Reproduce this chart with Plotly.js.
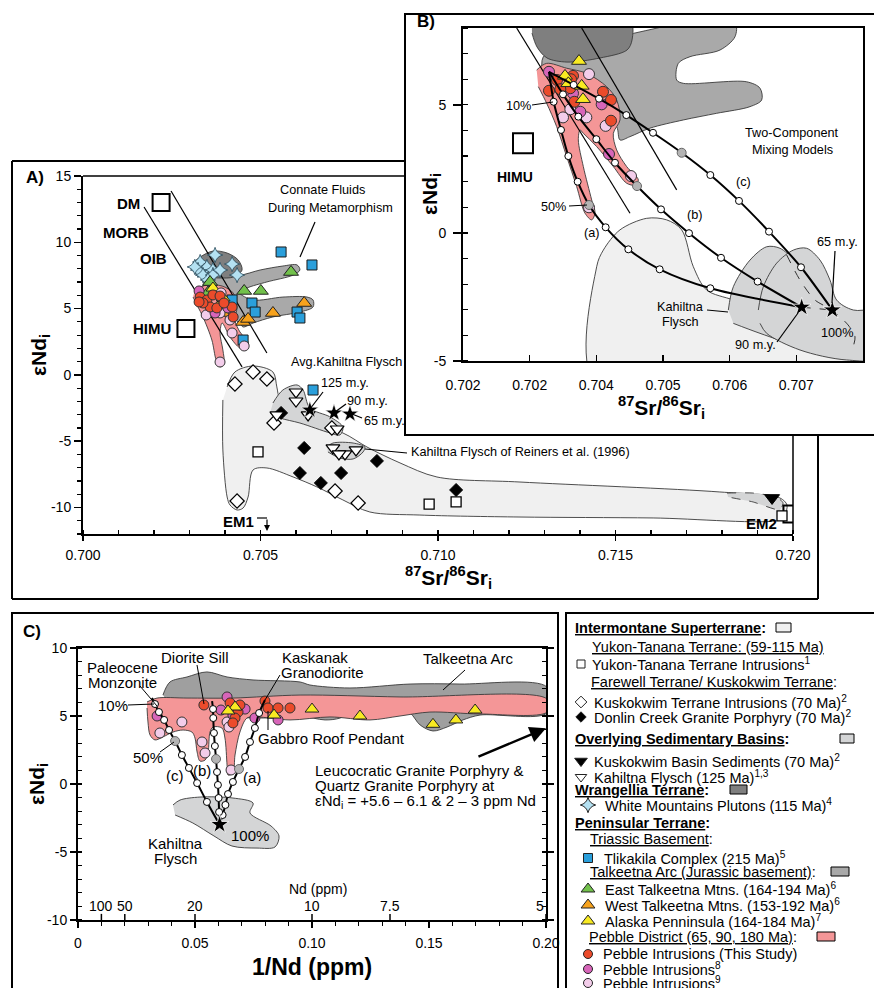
<!DOCTYPE html>
<html><head><meta charset="utf-8">
<script src="https://cdn.plot.ly/plotly-3.0.1.min.js"></script>
<style>html,body{margin:0;padding:0;background:#fff}</style>
</head><body><div id="chart" style="width:874px;height:988px"></div>
<script>
// ================= DATA =================
// ---- Panel A (87Sr/86Sr vs eNd) ----
const aIntermontaneX = [0.70406,0.70428,0.70479,0.70535,0.70546,0.70555,0.70611,0.70732,0.70800,0.70893,0.70997,0.71231,0.71794,0.71963,0.71983,0.71977,0.71963,0.71606,0.71231,0.70949,0.70808,0.70732,0.70659,0.70592,0.70518,0.70479,0.70465,0.70451,0.70434,0.70414,0.70406,0.70394,0.70394];
const aIntermontaneY = [-0.91,0.22,0.67,0.22,-0.91,-1.89,-3.40,-4.38,-5.44,-6.64,-7.70,-8.08,-8.83,-9.28,-9.81,-10.57,-10.94,-10.79,-10.72,-10.57,-10.34,-9.43,-8.45,-7.70,-7.02,-7.17,-9.21,-10.04,-10.19,-9.81,-9.21,-5.66,-1.89];
const aTalkeetnaX = [0.70338,0.70406,0.70442,0.70499,0.70563,0.70603,0.70611,0.70592,0.70518,0.70462,0.70442,0.70479,0.70563,0.70631,0.70648,0.70648,0.70611,0.70535,0.70479,0.70451,0.70442,0.70414,0.70377,0.70349,0.70330];
const aTalkeetnaY = [6.93,7.68,7.53,7.91,8.21,8.29,7.91,7.53,7.01,6.55,6.18,5.65,5.87,5.87,5.65,5.12,4.74,4.37,3.91,3.61,3.91,4.37,5.12,5.87,6.40];
const aWrangelliaX = [0.70310,0.70330,0.70366,0.70406,0.70437,0.70448,0.70423,0.70386,0.70349,0.70315];
const aWrangelliaY = [8.44,8.89,9.34,9.19,8.67,7.91,7.38,7.31,7.38,7.68];
const aPebbleX = [0.70315,0.70349,0.70392,0.70423,0.70434,0.70428,0.70442,0.70465,0.70462,0.70442,0.70414,0.70392,0.70386,0.70394,0.70397,0.70386,0.70375,0.70363,0.70338,0.70324,0.70310];
const aPebbleY = [6.40,6.78,6.70,6.18,5.12,4.14,3.24,2.48,1.95,2.03,2.86,3.91,3.16,1.88,0.90,0.60,1.12,2.63,4.37,5.12,5.87];
const aKahiltnaX = [0.70535,0.70563,0.70603,0.70620,0.70639,0.70696,0.70732,0.70724,0.70696,0.70611,0.70555,0.70527];
const aKahiltnaY = [-2.12,-1.14,-0.76,-1.14,-2.50,-3.17,-3.93,-4.53,-4.38,-3.63,-3.25,-2.87];
const aReinersX = [0.70687,0.70704,0.70761,0.70794,0.70789,0.70761,0.70724,0.70690];
const aReinersY = [-5.44,-5.14,-5.14,-5.44,-5.81,-6.34,-6.27,-5.81];
const aKuskoBasinX = [0.71814,0.71887,0.71955,0.71972,0.71963,0.71887,0.71817];
const aKuskoBasinY = [-8.91,-8.91,-9.21,-9.66,-10.19,-9.58,-9.21];
const aLine1X = [0.70172,0.70448], aLine1Y = [12.66,0.60];
const aLine2X = [0.70248,0.70518], aLine2Y = [13.87,1.65];
const reservoirName = ['DM','HIMU','EM2'];
const reservoirSr = [0.7022,0.7029,0.71997];
const reservoirNd = [13.0,3.5,-10.49];
const aTlikakilaX = [0.70558,0.70645,0.70420,0.70476,0.70485,0.70603,0.70611,0.70451,0.70648];
const aTlikakilaY = [9.27,8.29,5.65,5.42,4.74,4.74,4.29,2.63,-1.14];
const aWhiteMtnX = [0.70372,0.70330,0.70349,0.70366,0.70324,0.70338,0.70366,0.70420,0.70434,0.70315,0.70352,0.70386];
const aWhiteMtnY = [9.04,8.51,8.14,7.91,7.91,7.53,7.53,8.36,7.53,8.14,7.16,7.91];
const aEastTalkX = [0.70586,0.70454,0.70501,0.70358,0.70352];
const aEastTalkY = [7.76,6.33,6.33,7.0,6.2];
const aWestTalkX = [0.70623,0.70535,0.70451,0.70465,0.70394];
const aWestTalkY = [5.42,4.67,3.99,4.22,4.67];
const aAKPenX = [0.70366,0.70380,0.70395];
const aAKPenY = [6.55,5.12,5.8];
const aRedX = [0.70330,0.70349,0.70366,0.70386,0.70358,0.70377,0.70420,0.70423,0.70338,0.70327,0.70397];
const aRedY = [5.87,5.65,6.03,5.95,5.12,5.05,5.12,4.37,5.42,5.50,5.42];
const aMagX = [0.70327,0.70372,0.70408];
const aMagY = [6.33,4.67,5.05];
const aLtPinkX = [0.70347,0.70389,0.70414,0.70420,0.70454,0.70386,0.70386];
const aLtPinkY = [4.52,6.18,4.14,3.16,2.18,0.97,4.67];
const aKuskoIntrX = [0.70428,0.70479,0.70518,0.70538,0.70701,0.70434,0.70710,0.70775];
const aKuskoIntrY = [-0.69,0.22,-0.31,-3.63,-4.0,-9.51,-8.76,-9.66];
const aDonlinX = [0.70558,0.70623,0.70611,0.70670,0.70727,0.70828,0.71051];
const aDonlinY = [-2.87,-5.51,-7.40,-8.15,-7.40,-6.49,-8.68];
const aYukonX = [0.70493,0.70975,0.71051,0.71969];
const aYukonY = [-5.81,-9.74,-9.58,-10.64];
const aKahFlyschX = [0.70600,0.70600,0.70634,0.70716,0.70546,0.70704,0.70738,0.70769,0.70721];
const aKahFlyschY = [-1.29,-1.97,-3.02,-4.08,-3.02,-5.51,-5.96,-5.66,-5.96];
const aKuskoSedX = [0.71941], aKuskoSedY = [-9.28];
const aAvgKahX = [0.70639,0.70707,0.70752], aAvgKahY = [-2.65,-2.87,-2.95];
const aXTicks = [0.700,0.705,0.710,0.715,0.720], aXTickText = ['0.700','0.705','0.710','0.715','0.720'];
const aYTicks = [-10,-5,0,5,10,15], aYTickText = ['-10','-5','0','5','10','15'];

// ---- Panel B (zoom, mixing models) ----
const bWrangelliaX = [0.703035,0.70311,0.70326,0.70356,0.704055,0.70446,0.704535,0.704505,0.70303];
const bWrangelliaY = [7.80,7.26,6.83,6.67,6.83,7.14,7.53,8.3,8.3];
const bTalkeetnaX = [0.70318,0.703205,0.703405,0.703855,0.704555,0.705305,0.70608,0.70608,0.705855,0.705405,0.70523,0.705205,0.705305,0.706255,0.706455,0.70648,0.706305,0.705805,0.705305,0.704805,0.704505,0.704355,0.704305,0.704055,0.703655,0.703255];
const bTalkeetnaY = [6.49,6.88,7.14,7.40,7.79,8.18,8.18,7.66,7.14,6.88,6.62,5.97,5.84,5.90,5.65,5.19,4.93,4.67,4.41,4.09,3.76,3.63,4.15,4.80,5.71,6.10];
const bPebbleX = [0.703105,0.703255,0.703555,0.703855,0.704155,0.704305,0.704355,0.704255,0.704305,0.704455,0.70463,0.70458,0.704455,0.704255,0.704005,0.703805,0.703755,0.70373,0.703805,0.70393,0.70398,0.70393,0.70383,0.703705,0.703555,0.703405,0.703255,0.70313];
const bPebbleY = [6.36,6.62,6.43,6.23,5.71,5.19,4.41,3.89,3.24,2.59,2.07,1.87,1.94,2.59,3.37,3.89,4.02,3.63,2.59,1.29,0.78,0.51,0.77,1.81,2.98,4.15,5.06,5.71];
const bIntermontaneX = [0.704005,0.704005,0.704105,0.704355,0.704755,0.705055,0.70528,0.705455,0.705655,0.706055,0.706555,0.707055,0.707555,0.708005,0.7085,0.7085,0.704005];
const bIntermontaneY = [-6,-1.32,-0.67,0.12,0.57,0.51,0.12,-1.32,-2.23,-2.62,-3.14,-3.53,-4.05,-4.44,-4.6,-6,-6];
const bKahiltna1X = [0.70598,0.706055,0.706305,0.706555,0.706755,0.706955,0.707055,0.707305,0.707705,0.7085,0.7085,0.707705,0.707055,0.706455,0.706055];
const bKahiltna1Y = [-3.01,-2.10,-1.06,-0.54,-0.60,-1.06,-1.71,-2.62,-3.14,-3.01,-4.83,-4.83,-4.44,-3.92,-3.53];
const bKahiltna2X = [0.70643,0.706505,0.706705,0.706955,0.707155,0.707355,0.707505,0.707605,0.707855,0.7085,0.7085,0.707755,0.707055,0.706555,0.706455];
const bKahiltna2Y = [-3.01,-2.10,-1.18,-0.67,-0.60,-1.06,-1.84,-2.62,-3.01,-3.0,-4.83,-4.96,-4.57,-3.92,-3.53];
const bDashedX = [0.706855,0.707055,0.70728,0.707535,0.707775,0.70788,0.707835];
const bDashedY = [-0.86,-1.84,-2.62,-3.01,-3.59,-4.06,-4.57];
const bLine1X = [0.702805,0.704505], bLine1Y = [8,0.77];
const bLine2X = [0.70378,0.705205], bLine2Y = [8,1.68];
const bCurveAX = [0.70329,0.70336,0.70347,0.70358,0.70372,0.70389,0.70414,0.70448,0.70495,0.70571,0.70708];
const bCurveAY = [6.29,5.12,4.02,3.0,2.0,1.09,0.22,-0.64,-1.42,-2.16,-2.90];
const bCurveBX = [0.70329,0.70350,0.70373,0.70400,0.70428,0.70461,0.70497,0.70539,0.70587,0.70642,0.70708];
const bCurveBY = [6.29,5.41,4.54,3.66,2.74,1.83,0.92,-0.01,-0.97,-1.90,-2.90];
const bCurveCX = [0.70329,0.70366,0.70404,0.70445,0.70485,0.70528,0.70571,0.70614,0.70659,0.70707,0.70754];
const bCurveCY = [6.29,5.78,5.24,4.60,3.91,3.13,2.26,1.25,0.05,-1.34,-3.01];
const bStarX = [0.70708,0.70754], bStarY = [-2.90,-3.01];
const bAKPenX = [0.70374,0.70353,0.70380,0.70378,0.70358];
const bAKPenY = [6.71,6.13,5.22,5.74,5.84];
const bRedX = [0.70329,0.70341,0.70365,0.70362,0.70361,0.70367,0.70410,0.70422,0.70422,0.70346];
const bRedY = [5.55,5.97,6.13,6.0,5.65,5.12,5.51,5.19,4.38,5.61];
const bMagX = [0.70329,0.70365,0.70376,0.70408,0.70419,0.70353];
const bMagY = [6.29,5.45,4.73,5.02,3.08,5.58];
const bLtPinkX = [0.70389,0.70350,0.70385,0.70361,0.70414,0.70452,0.70389];
const bLtPinkY = [6.20,4.51,4.51,4.83,4.18,2.22,1.0];
const bXTicks = [0.702,0.703,0.704,0.705,0.706,0.707,0.708];
const bXTickText = ['0.702','0.702','0.704','0.705','0.706','0.707','0.708'];
const bYTicks = [-5,0,5], bYTickText = ['-5','0','5'];

// ---- Panel C (1/Nd vs eNd) ----
const cKahiltnaX = [0.0406,0.0436,0.0521,0.0662,0.0748,0.0735,0.0825,0.0859,0.0842,0.0765,0.0658,0.0581,0.0491,0.0415];
const cKahiltnaY = [-1.54,-1.18,-0.96,-1.03,-1.40,-2.13,-3.09,-3.82,-4.63,-4.71,-4.56,-3.82,-2.87,-2.28];
const cTalkeetnaX = [0.0363,0.0393,0.0466,0.0551,0.0637,0.0748,0.0949,0.0991,0.1162,0.1419,0.1632,0.2004,0.2004,0.1718,0.1645,0.1577,0.1517,0.1462,0.1419,0.1355,0.1269,0.1184,0.1120,0.1056,0.0949,0.0778,0.0521,0.0393];
const cTalkeetnaY = [6.54,7.50,7.87,8.24,7.87,7.65,7.50,7.28,7.06,7.35,7.35,7.13,5.22,5.07,4.71,4.19,3.90,4.34,5.22,5.59,5.66,5.44,4.85,4.71,5.0,4.85,5.15,5.81];
const cPebbleX = [0.0295,0.0338,0.0466,0.0662,0.0949,0.1376,0.2004,0.2004,0.1718,0.1504,0.1376,0.1248,0.1077,0.0906,0.0765,0.0722,0.0692,0.0671,0.0662,0.0641,0.0637,0.0628,0.0615,0.0577,0.0564,0.0556,0.0543,0.0521,0.0509,0.0500,0.0487,0.0449,0.0406,0.0363,0.0329,0.0308,0.0299,0.0295];
const cPebbleY = [6.03,6.32,6.32,6.32,6.54,6.40,6.25,5.29,5.15,5.29,5.0,4.71,4.93,4.71,4.93,4.85,3.82,2.13,0.81,0.66,1.40,3.38,4.12,4.19,3.82,2.35,1.76,1.69,2.35,3.38,3.82,3.97,3.82,3.46,3.24,3.60,4.56,5.59];
const cCurveAX = [0.0799,0.0774,0.0756,0.0735,0.0714,0.0688,0.0662,0.0641,0.0630,0.0618,0.0605];
const cCurveAY = [6.18,5.22,4.12,3.09,1.99,1.10,0.15,-0.74,-1.54,-2.28,-2.98];
const cCurveBX = [0.0573,0.0577,0.0578,0.0581,0.0585,0.0590,0.0594,0.0598,0.0601,0.0603,0.0605];
const cCurveBY = [6.10,5.51,4.85,3.75,2.79,1.84,0.88,-0.07,-1.03,-2.06,-2.98];
const cCurveCX = [0.0316,0.0329,0.0346,0.0368,0.0389,0.0415,0.0444,0.0474,0.0509,0.0551,0.0605];
const cCurveCY = [6.32,5.88,5.29,4.71,3.97,3.16,2.13,1.18,0.07,-1.32,-2.98];
const cStarX = [0.0605], cStarY = [-2.98];
const cRedX = [0.0538,0.0650,0.0684,0.0671,0.0662,0.0799,0.0812,0.0855,0.0906,0.0692];
const cRedY = [5.81,5.96,5.29,4.85,4.49,6.10,5.59,5.59,5.59,5.81];
const cMagX = [0.0637,0.0611,0.0714,0.0338,0.0662,0.0855,0.0756];
const cMagY = [6.40,5.44,5.51,5.0,5.07,4.71,4.85];
const cLtPinkX = [0.0444,0.0350,0.0530,0.0543,0.0654,0.0637,0.0645];
const cLtPinkY = [4.56,3.75,3.09,2.28,1.03,4.56,4.19];
const cAKPenX = [0.1517,0.1615,0.1697,0.1205,0.1000,0.0671,0.0641,0.0838];
const cAKPenY = [4.39,4.71,5.44,5.0,5.51,5.66,5.37,5.07];
const cNdValues = [100,50,20,10,7.5,5];
const cNdLabels = ['100','50','20','10','7.5','5'];
const cXTicks = [0,0.05,0.10,0.15,0.20], cXTickText = ['0','0.05','0.10','0.15','0.20'];
const cYTicks = [-10,-5,0,5,10], cYTickText = ['-10','-5','0','5','10'];

// ---- Legend ----
const legendText = [
 '<b><u>Intermontane Superterrane</u>:</b>',
 '<u>Yukon-Tanana Terrane: (59-115 Ma)</u>',
 'Yukon-Tanana Terrane Intrusions<sup>1</sup>',
 '<u>Farewell Terrane/ Kuskokwim Terrane</u>:',
 'Kuskokwim Terrane Intrusions (70 Ma)<sup>2</sup>',
 'Donlin Creek Granite Porphyry (70 Ma)<sup>2</sup>',
 '<b><u>Overlying Sedimentary Basins</u>:</b>',
 'Kuskokwim Basin Sediments (70 Ma)<sup>2</sup>',
 'Kahiltna Flysch (125 Ma)<sup>1,3</sup>',
 '<b><u>Wrangellia Terrane</u>:</b>',
 'White Mountains Plutons (115 Ma)<sup>4</sup>',
 '<b><u>Peninsular Terrane</u>:</b>',
 '<u>Triassic Basement</u>:',
 'Tlikakila Complex (215 Ma)<sup>5</sup>',
 '<u>Talkeetna Arc (Jurassic basement)</u>:',
 'East Talkeetna Mtns. (164-194 Ma)<sup>6</sup>',
 'West Talkeetna Mtns. (153-192 Ma)<sup>6</sup>',
 'Alaska Penninsula (164-184 Ma)<sup>7</sup>',
 '<u>Pebble District (65, 90, 180 Ma)</u>:',
 'Pebble Intrusions (This Study)',
 'Pebble Intrusions<sup>8</sup>',
 'Pebble Intrusions<sup>9</sup>'
];

// ================= STYLE / LAYOUT =================
const W = 874, H = 988;
const X = p => p / W, Y = p => 1 - p / H;
const F = 'Liberation Sans, Arial, sans-serif';
const FN = F;          // narrow lettering of the reference, approximated with a smaller size
const SN = 12.7;
const LS = 14.5;       // legend text size
const COL = {red:'#eb4b2b', mag:'#d765b9', ltp:'#f3cdea', blue:'#2a9fdb', green:'#72c14b', orange:'#f7a21c',
  yel:'#f8ea22', cyan:'#b4e1f2', inter:'#f0f0f0', sed:'#d4d5d6', wrang:'#7f7f7f', talk:'#a9a9a9', peb:'#f49697'};
const AX = {A:['x','y'], B:['x2','y2'], C:['x3','y3'], L:['x4','y4']};

const traces = [];
function field(xs, ys, fill, ax, o = {}) {
  traces.push({type:'scatter', mode:'lines', x:xs, y:ys, xaxis:ax[0], yaxis:ax[1], fill:'toself', fillcolor:fill,
    line:{color:o.lc || '#3a3a3a', width:o.lw || 0.9, shape:'spline', smoothing:o.sm || 0.9, dash:o.dash || 'solid'},
    hoverinfo:'skip', showlegend:false});
}
function line(xs, ys, ax, w, color, dash, shape) {
  traces.push({type:'scatter', mode:'lines', x:xs, y:ys, xaxis:ax[0], yaxis:ax[1],
    line:{color:color || '#000', width:w, dash:dash || 'solid', shape:shape || 'linear', smoothing:0.8},
    hoverinfo:'skip', showlegend:false});
}
function pts(xs, ys, ax, sym, color, size, lc, lw) {
  traces.push({type:'scatter', mode:'markers', x:xs, y:ys, xaxis:ax[0], yaxis:ax[1],
    marker:{symbol:sym, color:color, size:size, line:{color:lc || '#222', width:lw === undefined ? 1 : lw}},
    hoverinfo:'skip', showlegend:false});
}
function curve(xs, ys, ax, grayIdx) {
  line(xs, ys, ax, 2, '#000', 'solid', 'spline');
  const wx = [], wy = [];
  for (let i = 1; i < xs.length - 1; i++) if (i !== grayIdx) { wx.push(xs[i]); wy.push(ys[i]); }
  pts(wx, wy, ax, 'circle', '#fff', 7, '#000', 1);
  pts([xs[grayIdx]], [ys[grayIdx]], ax, 'circle', '#b4b4b4', 9, '#666', 1);
}

// ---- Panel A traces ----
field(aIntermontaneX, aIntermontaneY, COL.inter, AX.A);
field(aKahiltnaX, aKahiltnaY, COL.sed, AX.A);
field(aReinersX, aReinersY, COL.sed, AX.A);
field(aKuskoBasinX, aKuskoBasinY, COL.sed, AX.A, {dash:'dash', sm:0.5});
field(aTalkeetnaX, aTalkeetnaY, COL.talk, AX.A);
field(aWrangelliaX, aWrangelliaY, COL.wrang, AX.A);
field(aPebbleX, aPebbleY, COL.peb, AX.A);
line(aLine1X, aLine1Y, AX.A, 1.2);
line(aLine2X, aLine2Y, AX.A, 1.2);
pts([reservoirSr[0]], [reservoirNd[0]], AX.A, 'square-open', '#000', 17, '#000', 2);
pts([reservoirSr[1]], [reservoirNd[1]], AX.A, 'square-open', '#000', 17, '#000', 2);
pts([reservoirSr[2]], [reservoirNd[2]], AX.A, 'square-open', '#000', 17, '#000', 2);
pts(aKuskoIntrX, aKuskoIntrY, AX.A, 'diamond', '#fff', 11, '#000', 1.2);
pts(aDonlinX, aDonlinY, AX.A, 'diamond', '#000', 10, '#000', 1);
pts(aYukonX, aYukonY, AX.A, 'square', '#fff', 10, '#000', 1.3);
pts(aKahFlyschX, aKahFlyschY, AX.A, 'triangle-down', '#fff', 12, '#000', 1.2);
pts(aKuskoSedX, aKuskoSedY, AX.A, 'triangle-down', '#000', 13, '#000', 1);
pts(aTlikakilaX, aTlikakilaY, AX.A, 'square', COL.blue, 10, '#1a1a1a', 1);
pts(aWhiteMtnX, aWhiteMtnY, AX.A, 'star-diamond', COL.cyan, 11, '#2a4a5a', 0.8);
pts(aEastTalkX, aEastTalkY, AX.A, 'triangle-up', COL.green, 13, '#222', 1);
pts(aWestTalkX, aWestTalkY, AX.A, 'triangle-up', COL.orange, 13, '#222', 1);
pts(aAKPenX, aAKPenY, AX.A, 'triangle-up', COL.yel, 12, '#222', 1);
pts(aLtPinkX, aLtPinkY, AX.A, 'circle', COL.ltp, 10, '#333', 1);
pts(aMagX, aMagY, AX.A, 'circle', COL.mag, 10, '#333', 1);
pts(aRedX, aRedY, AX.A, 'circle', COL.red, 10, '#333', 1);
pts(aAvgKahX, aAvgKahY, AX.A, 'star', '#000', 13, '#fff', 0.6);

// ---- Panel B traces ----
field(bIntermontaneX, bIntermontaneY, COL.inter, AX.B);
field(bKahiltna1X, bKahiltna1Y, COL.sed, AX.B);
field(bKahiltna2X, bKahiltna2Y, COL.sed, AX.B);
line(bDashedX, bDashedY, AX.B, 1, '#333', 'dash', 'spline');
line([bStarX[0], bStarX[1]], [bStarY[0], bStarY[1]], AX.B, 1, '#333', 'dash');
field(bTalkeetnaX, bTalkeetnaY, COL.talk, AX.B);
field(bWrangelliaX, bWrangelliaY, COL.wrang, AX.B);
field(bPebbleX, bPebbleY, COL.peb, AX.B);
line(bLine1X, bLine1Y, AX.B, 1.2);
line(bLine2X, bLine2Y, AX.B, 1.2);
pts([reservoirSr[1]], [reservoirNd[1]], AX.B, 'square-open', '#000', 20, '#000', 2);
pts(bLtPinkX, bLtPinkY, AX.B, 'circle', COL.ltp, 11, '#333', 1);
pts(bMagX, bMagY, AX.B, 'circle', COL.mag, 11, '#333', 1);
pts(bRedX, bRedY, AX.B, 'circle', COL.red, 11, '#333', 1);
pts(bAKPenX, bAKPenY, AX.B, 'triangle-up', COL.yel, 13, '#222', 1);
curve(bCurveAX, bCurveAY, AX.B, 5);
curve(bCurveBX, bCurveBY, AX.B, 5);
curve(bCurveCX, bCurveCY, AX.B, 5);
pts(bStarX, bStarY, AX.B, 'star', '#000', 14, '#fff', 0.8);

// ---- Panel C traces ----
field(cKahiltnaX, cKahiltnaY, COL.sed, AX.C);
field(cTalkeetnaX, cTalkeetnaY, '#9f9f9f', AX.C);
field(cPebbleX, cPebbleY, COL.peb, AX.C);
pts(cLtPinkX, cLtPinkY, AX.C, 'circle', COL.ltp, 10, '#333', 1);
pts(cMagX, cMagY, AX.C, 'circle', COL.mag, 10, '#333', 1);
pts(cRedX, cRedY, AX.C, 'circle', COL.red, 10, '#333', 1);
pts(cAKPenX, cAKPenY, AX.C, 'triangle-up', COL.yel, 12, '#222', 1);
curve(cCurveAX, cCurveAY, AX.C, 5);
curve(cCurveBX, cCurveBY, AX.C, 5);
curve(cCurveCX, cCurveCY, AX.C, 5);
pts(cStarX, cStarY, AX.C, 'star', '#000', 14, '#fff', 0.8);

// ---- Legend markers (helper pixel axis) ----
const legendRowY = [628,647,664,682,702,717,739,761,777,790,805,823,839,858,872,889,905,921,937,954,969,983];
const legendMarkers = [
 [2,'square','#fff',8,581],[4,'diamond','#fff',9,581],[5,'diamond','#000',8,581],
 [7,'triangle-down','#000',11,581],[8,'triangle-down','#fff',10,581],
 [10,'star-diamond',COL.cyan,11,588],[13,'square',COL.blue,9,588],
 [15,'triangle-up',COL.green,12,588],[16,'triangle-up',COL.orange,12,588],[17,'triangle-up',COL.yel,12,588],
 [19,'circle',COL.red,9,588],[20,'circle',COL.mag,9,588],[21,'circle',COL.ltp,9,588]
];
legendMarkers.forEach(m => pts([m[4]], [legendRowY[m[0]]], AX.L, m[1], m[2], m[3], '#222', 1));
const legendTextX = [573,590,590,589,592,592,573,592,592,573,603,573,588,602,588,603,603,603,587,601,601,601];
const legendSwatch = [[0,COL.inter,773,788],[6,COL.sed,837,851],[9,COL.wrang,727,744],[14,COL.talk,828,846],[18,COL.peb,814,832]];

// ---- annotations & shapes ----
const ann = [];
function T(text, px, py, size, font, o = {}) {
  ann.push(Object.assign({text:text, x:X(px), y:Y(py), xref:'paper', yref:'paper', showarrow:false,
    xanchor:'center', yanchor:'middle', font:{family:font || F, size:size || 14, color:'#000'}}, o));
}
const shapes = [];
function seg(x0, y0, x1, y1, w) {
  shapes.push({type:'line', xref:'paper', yref:'paper', x0:X(x0), y0:Y(y0), x1:X(x1), y1:Y(y1), line:{color:'#000', width:w || 1}});
}
function rect(x0, y0, x1, y1, fill, w, layer) {
  shapes.push({type:'rect', xref:'paper', yref:'paper', x0:X(x0), y0:Y(y0), x1:X(x1), y1:Y(y1),
    fillcolor:fill || 'rgba(0,0,0,0)', line:{color:'#000', width:w === undefined ? 2 : w}, layer:layer || 'above'});
}

// Frames
seg(12,161,12,599,2); seg(12,599,818,599,2); seg(818,435,818,599,2); seg(12,161,405,161,2);
seg(83,176,405,176,1.5); seg(793,435,793,534,1.5);
rect(405,14,880,435,'#fff',2,'below');
rect(12,613,558,995,'rgba(0,0,0,0)',2);
rect(566,613,880,995,'rgba(0,0,0,0)',2);

// Panel A labels
T('<b>A)</b>',35,177,17);
T('<b>DM</b>',128,203,15); T('<b>MORB</b>',126,232,15); T('<b>OIB</b>',153,258,15); T('<b>HIMU</b>',152,329,15);
T('Connate Fluids',322,190,SN,FN); T('During Metamorphism',330,208,SN,FN);
seg(315,222,300,257,1.2);
T('Avg.Kahiltna Flysch',346,362,SN,FN);
T('125 m.y.',345,383,SN,FN); seg(323,392,310,409,1.2);
T('90 m.y.',367,401,SN,FN); seg(346,404,335,412,1.2);
T('65 m.y.',384,421,SN,FN); seg(362,418,352,414,1.2);
T('Kahiltna Flysch of Reiners et al. (1996)',409,452,SN,FN,{xanchor:'left'}); seg(365,449,407,453,1.2);
T('<b>EM1</b>',238,521,15); seg(257,518,267,518,1.2);
ann.push({text:'', x:X(267), y:Y(531), ax:X(267), ay:Y(518), xref:'paper', yref:'paper', axref:'paper', ayref:'paper',
  showarrow:true, arrowhead:2, arrowsize:1, arrowwidth:1.2, arrowcolor:'#000', standoff:0});
T('<b>EM2</b>',761,523,15);
T('<b>εNd<sub>i</sub></b>',40,355,21,F,{textangle:-90});
T('<b><sup>87</sup>Sr/<sup>86</sup>Sr<sub>i</sub></b>',448,577,21);

// Panel B labels
T('<b>B)</b>',426,21,17);
T('10%',518,106,SN,FN); seg(532,105,553,102,1);
T('50%',553,207,SN,FN); seg(569,206,587,205,1);
T('<b>HIMU</b>',515,177,14);
T('Two-Component',792,133,SN,FN); T('Mixing Models',792,150,SN,FN);
T('(c)',743,182,SN,FN); T('(b)',695,215,SN,FN); T('(a)',592,233,SN,FN);
T('65 m.y.',837,242,SN,FN); seg(835,251,832,303,1.2);
T('90 m.y.',755,345,SN,FN); seg(777,342,798,313,1.2);
T('100%',837,333,SN,FN);
T('Kahiltna',680,307,SN,FN); T('Flysch',680,322,SN,FN); seg(707,310,728,312,1);
T('<b>εNd<sub>i</sub></b>',431,194,21,F,{textangle:-90});
T('<b><sup>87</sup>Sr/<sup>86</sup>Sr<sub>i</sub></b>',661,407,21);

// Panel C labels
T('<b>C)</b>',32,631,17);
T('Paleocene',123,667,15); T('Monzonite',123,682,15); seg(140,686,157,706,1);
T('Diorite Sill',195,657,15); seg(197,665,204,704,1);
T('Kaskanak',315,657,15); T('Granodiorite',322,672,15); seg(280,675,265,700,1);
T('Gabbro Roof Pendant',331,738,15); seg(268,711,268,730,1);
T('Talkeetna Arc',468,658,15); seg(465,670,443,690,1);
T('10%',113,705,15); seg(128,705,154,704,1);
T('50%',148,757,15); seg(160,752,174,742,1);
T('(c)',175,775,15); T('(b)',202,770,15); T('(a)',252,777,15);
T('Kahiltna',175,843,15); T('Flysch',175,858,15);
T('100%',250,835,15);
T('Leucocratic Granite Porphyry &amp;',313,770,15,F,{xanchor:'left'});
T('Quartz Granite Porphyry at',313,785,15,F,{xanchor:'left'});
T('εNd<sub>i</sub> = +5.6 – 6.1 &amp; 2 – 3 ppm Nd',313,801,15,F,{xanchor:'left'});
ann.push({text:'', xref:'x3', yref:'y3', x:0.2, y:4.1, axref:'x3', ayref:'y3', ax:0.1705, ay:1.96,
  showarrow:true, arrowhead:2, arrowsize:1.3, arrowwidth:2.5, arrowcolor:'#000', standoff:0});
T('Nd (ppm)',318,889,14);
cNdValues.forEach((v, i) => {
  ann.push({text:cNdLabels[i], xref:'x3', yref:'paper', x:1 / v, y:Y(906), showarrow:false,
    xanchor: i === cNdValues.length - 1 ? 'right' : 'center', yanchor:'middle', font:{family:F, size:14, color:'#000'}});
  shapes.push({type:'line', xref:'x3', yref:'y3', x0:1 / v, x1:1 / v, y0:-10, y1:-9.55, line:{color:'#000', width:1.5}});
});
T('<b>εNd<sub>i</sub></b>',38,784,21,F,{textangle:-90});
T('<b>1/Nd (ppm)</b>',312,967,23);

// Legend text
legendText.forEach((t, i) => T(t, legendTextX[i], legendRowY[i], LS, F, {xanchor:'left'}));
legendSwatch.forEach(s => rect(s[2] + 3, legendRowY[s[0]] - 5, s[3] + 3, legendRowY[s[0]] + 4, s[1], 1));

// Axes
function minorVals(a, b, step) { const v = []; for (let t = a; t <= b + step / 2; t += step) v.push(+t.toFixed(6)); return v; }
const baseAx = {showgrid:false, zeroline:false, showline:true, linecolor:'#000', linewidth:2, tickcolor:'#000',
  tickfont:{family:F, size:14, color:'#000'}, tickmode:'array', fixedrange:true};
const layout = {
  width:W, height:H, margin:{l:0, r:0, t:0, b:0}, paper_bgcolor:'#fff', plot_bgcolor:'rgba(0,0,0,0)',
  showlegend:false, hovermode:false,
  xaxis: Object.assign({}, baseAx, {domain:[X(83), X(793)], range:[0.700,0.720], anchor:'y',
    tickvals:aXTicks, ticktext:aXTickText, ticks:'outside', ticklen:5, tickwidth:1.5, ticklabelstandoff:2,
    minor:{tickmode:'array', tickvals:minorVals(0.700,0.720,0.001), ticks:'inside', ticklen:4, tickwidth:1.2, tickcolor:'#000'}}),
  yaxis: Object.assign({}, baseAx, {domain:[Y(534), Y(176)], range:[-12,15], anchor:'x',
    tickvals:aYTicks, ticktext:aYTickText, ticks:'outside', ticklen:7, tickwidth:1.5,
    minor:{tickmode:'array', tickvals:minorVals(-12,15,1), ticks:'outside', ticklen:4, tickwidth:1.2, tickcolor:'#000'}}),
  xaxis2: Object.assign({}, baseAx, {domain:[X(463), X(863)], range:[0.702,0.708], anchor:'y2', mirror:true,
    tickvals:bXTicks, ticktext:bXTickText, ticks:'inside', ticklen:6, tickwidth:1.5, ticklabelstandoff:10}),
  yaxis2: Object.assign({}, baseAx, {domain:[Y(361), Y(28)], range:[-5,8], anchor:'x2', mirror:true,
    tickvals:bYTicks, ticktext:bYTickText, ticks:'outside', ticklen:8, tickwidth:1.5, ticklabelstandoff:4,
    minor:{tickmode:'array', tickvals:minorVals(-5,8,1), ticks:'inside', ticklen:5, tickwidth:1.2, tickcolor:'#000'}}),
  xaxis3: Object.assign({}, baseAx, {domain:[X(78), X(546)], range:[0,0.2], anchor:'y3', mirror:true,
    tickvals:cXTicks, ticktext:cXTickText, ticks:'outside', ticklen:6, tickwidth:1.5, ticklabelstandoff:3,
    minor:{tickmode:'array', tickvals:minorVals(0,0.2,0.01), ticks:'outside', ticklen:4, tickwidth:1.2, tickcolor:'#000'}}),
  yaxis3: Object.assign({}, baseAx, {domain:[Y(920), Y(648)], range:[-10,10], anchor:'x3', mirror:'ticks',
    tickvals:cYTicks, ticktext:cYTickText, ticks:'outside', ticklen:6, tickwidth:1.5,
    minor:{tickmode:'array', tickvals:minorVals(-10,10,1), ticks:'inside', ticklen:4, tickwidth:1.2, tickcolor:'#000'}}),
  xaxis4: {domain:[0,1], range:[0,W], anchor:'y4', visible:false, fixedrange:true},
  yaxis4: {domain:[0,1], range:[H,0], anchor:'x4', visible:false, fixedrange:true},
  annotations: ann, shapes: shapes
};
Plotly.newPlot('chart', traces, layout, {displayModeBar:false, staticPlot:true});
</script></body></html>
